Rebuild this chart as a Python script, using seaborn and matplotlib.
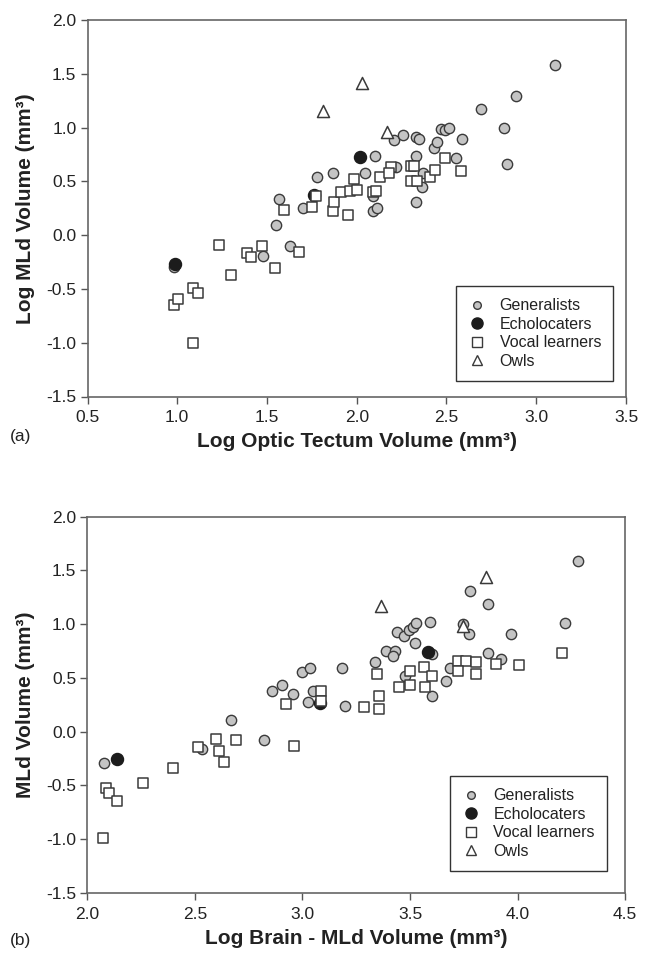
import matplotlib
matplotlib.use("Agg")
import matplotlib.pyplot as plt
from matplotlib.lines import Line2D
import seaborn as sns
import pandas as pd

# ---------------- Panel (a): Log Optic Tectum vs Log MLd ----------------
a_gen_x = [0.98, 1.48, 1.55, 1.565, 1.63, 1.70, 1.78, 1.865, 2.045, 2.10, 2.21, 2.255,
           2.22, 2.33, 2.345, 2.33, 2.37, 2.365, 2.33, 2.43, 2.445, 2.47, 2.49, 2.515,
           2.555, 2.585, 2.69, 2.82, 2.835, 2.885, 3.105, 2.09, 2.09, 2.115]
a_gen_y = [-0.30, -0.19, 0.09, 0.335, -0.10, 0.25, 0.54, 0.575, 0.575, 0.74, 0.885, 0.93,
           0.63, 0.91, 0.895, 0.74, 0.575, 0.45, 0.31, 0.81, 0.87, 0.99, 0.98, 1.00,
           0.715, 0.89, 1.175, 1.00, 0.66, 1.295, 1.58, 0.36, 0.225, 0.25]
a_echo_x = [0.99, 2.02, 1.76]
a_echo_y = [-0.27, 0.73, 0.37]
a_voc_x = [0.98, 1.005, 1.09, 1.115, 1.09, 1.235, 1.30, 1.39, 1.41, 1.47, 1.545, 1.595,
           1.68, 1.75, 1.775, 1.865, 1.875, 1.915, 1.95, 1.96, 1.985, 2.00, 2.09, 2.11,
           2.13, 2.19, 2.18, 2.30, 2.32, 2.30, 2.335, 2.41, 2.435, 2.49, 2.58]
a_voc_y = [-0.65, -0.595, -0.49, -0.54, -1.00, -0.09, -0.37, -0.165, -0.205, -0.10, -0.305, 0.235,
           -0.155, 0.265, 0.365, 0.22, 0.31, 0.40, 0.19, 0.41, 0.52, 0.42, 0.40, 0.415,
           0.545, 0.63, 0.575, 0.645, 0.64, 0.505, 0.505, 0.545, 0.605, 0.72, 0.60]
a_owl_x = [1.81, 2.03, 2.17]
a_owl_y = [1.155, 1.415, 0.96]

# ---------------- Panel (b): Log Brain - MLd vs MLd ----------------
b_gen_x = [2.078, 2.532, 2.668, 2.823, 2.86, 2.904, 2.955, 3.00, 3.033, 3.051, 3.028, 3.183,
           3.199, 3.335, 3.39, 3.43, 3.42, 3.439, 3.473, 3.496, 3.516, 3.527, 3.524, 3.594,
           3.60, 3.475, 3.60, 3.667, 3.684, 3.745, 3.776, 3.78, 3.862, 3.862, 3.923, 3.97,
           4.222, 4.279]
b_gen_y = [-0.29, -0.166, 0.106, -0.08, 0.38, 0.433, 0.349, 0.557, 0.59, 0.38, 0.272, 0.588,
           0.24, 0.644, 0.752, 0.752, 0.706, 0.924, 0.892, 0.945, 0.976, 1.013, 0.824, 1.02,
           0.72, 0.52, 0.33, 0.468, 0.588, 1.00, 0.91, 1.308, 1.19, 0.735, 0.678, 0.905,
           1.014, 1.59]
b_echo_x = [2.14, 3.585, 3.08]
b_echo_y = [-0.256, 0.743, 0.27]
b_voc_x = [2.087, 2.10, 2.14, 2.072, 2.26, 2.40, 2.513, 2.60, 2.61, 2.636, 2.69, 2.961,
           2.923, 3.086, 3.086, 3.287, 3.346, 3.354, 3.358, 3.451, 3.498, 3.501, 3.563, 3.571,
           3.602, 3.723, 3.761, 3.807, 3.723, 3.807, 3.90, 4.007, 4.207]
b_voc_y = [-0.523, -0.576, -0.644, -0.99, -0.477, -0.343, -0.142, -0.073, -0.18, -0.287, -0.08, -0.135,
           0.253, 0.38, 0.284, 0.231, 0.535, 0.33, 0.207, 0.417, 0.563, 0.433, 0.598, 0.417,
           0.52, 0.657, 0.657, 0.644, 0.563, 0.533, 0.626, 0.62, 0.734]
b_owl_x = [3.366, 3.853, 3.745]
b_owl_y = [1.169, 1.436, 0.982]

groups = ["Generalists", "Echolocaters", "Vocal learners", "Owls"]

sns.set_theme(style="white")
plt.rcParams["font.family"] = ["Liberation Sans", "DejaVu Sans"]

EDGE = "#3a3a3a"
styles = {
    "Generalists":    dict(marker="o", s=55, facecolor="#c4c4c4", edgecolor=EDGE, linewidth=1.0),
    "Echolocaters":   dict(marker="o", s=75, facecolor="#1c1c1c", edgecolor="#1c1c1c", linewidth=1.0),
    "Vocal learners": dict(marker="s", s=60, facecolor="white", edgecolor=EDGE, linewidth=1.1),
    "Owls":           dict(marker="^", s=75, facecolor="white", edgecolor=EDGE, linewidth=1.1),
}
legend_handles = [
    Line2D([], [], linestyle="none", marker="o", markersize=5.5, markerfacecolor="#c4c4c4",
           markeredgecolor=EDGE, markeredgewidth=1.0, label="Generalists"),
    Line2D([], [], linestyle="none", marker="o", markersize=8, markerfacecolor="#1c1c1c",
           markeredgecolor="#1c1c1c", label="Echolocaters"),
    Line2D([], [], linestyle="none", marker="s", markersize=6.5, markerfacecolor="white",
           markeredgecolor=EDGE, markeredgewidth=1.0, label="Vocal learners"),
    Line2D([], [], linestyle="none", marker="^", markersize=7.5, markerfacecolor="white",
           markeredgecolor=EDGE, markeredgewidth=1.0, label="Owls"),
]


def make_df(gx, gy, ex, ey, vx, vy, ox, oy):
    parts = []
    for name, xs, ys in [("Generalists", gx, gy), ("Vocal learners", vx, vy),
                         ("Echolocaters", ex, ey), ("Owls", ox, oy)]:
        parts.append(pd.DataFrame({"x": xs, "y": ys, "group": name}))
    return pd.concat(parts, ignore_index=True)


df_a = make_df(a_gen_x, a_gen_y, a_echo_x, a_echo_y, a_voc_x, a_voc_y, a_owl_x, a_owl_y)
df_b = make_df(b_gen_x, b_gen_y, b_echo_x, b_echo_y, b_voc_x, b_voc_y, b_owl_x, b_owl_y)

fig = plt.figure(figsize=(6.53, 9.56), dpi=100)
ax_a = fig.add_axes([87.5 / 653, 1 - 396.5 / 956, 538.5 / 653, 376.5 / 956])
ax_b = fig.add_axes([87.3 / 653, 1 - 892.7 / 956, 537.9 / 653, 376.0 / 956])

draw_order = ["Generalists", "Echolocaters", "Vocal learners", "Owls"]


def draw(ax, df, xlim, xticks, xlabel, ylabel, leg_anchor):
    for g in draw_order:
        sub = df[df["group"] == g]
        st = styles[g]
        sns.scatterplot(data=sub, x="x", y="y", ax=ax, marker=st["marker"], s=st["s"],
                        color=st["facecolor"], edgecolor=st["edgecolor"],
                        linewidth=st["linewidth"], legend=False, zorder=3)
    ax.set_xlim(*xlim)
    ax.set_ylim(-1.5, 2.0)
    ax.set_xticks(xticks)
    ax.set_xticklabels([f"{t:.1f}" for t in xticks])
    yt = [-1.5, -1.0, -0.5, 0.0, 0.5, 1.0, 1.5, 2.0]
    ax.set_yticks(yt)
    ax.set_yticklabels([f"{t:.1f}" for t in yt])
    ax.tick_params(axis="both", which="major", direction="out", length=5, width=1.0,
                   color="#555555", labelsize=12.5, labelcolor="#222222",
                   bottom=True, left=True)
    ax.tick_params(axis="x", pad=5)
    ax.tick_params(axis="y", pad=3)
    for sp in ax.spines.values():
        sp.set_color("#666666")
        sp.set_linewidth(1.2)
    ax.set_xlabel(xlabel, fontsize=15, fontweight="bold", color="#222222", labelpad=5)
    ax.set_ylabel(ylabel, fontsize=15, fontweight="bold", color="#222222", labelpad=8)
    leg = ax.legend(handles=legend_handles, loc="lower right", bbox_to_anchor=leg_anchor,
                    borderaxespad=0, fontsize=11.5, frameon=True, fancybox=False,
                    handlelength=1.2, handletextpad=0.8, labelspacing=0.22,
                    borderpad=0.75, edgecolor="#333333", framealpha=1)
    leg.get_frame().set_linewidth(1.0)
    for t in leg.get_texts():
        t.set_color("#222222")


draw(ax_a, df_a, (0.5, 3.5), [0.5, 1.0, 1.5, 2.0, 2.5, 3.0, 3.5],
     "Log Optic Tectum Volume (mm³)", "Log MLd Volume (mm³)", (0.976, 0.042))
draw(ax_b, df_b, (2.0, 4.5), [2.0, 2.5, 3.0, 3.5, 4.0, 4.5],
     "Log Brain - MLd Volume (mm³)", "MLd Volume (mm³)", (0.966, 0.058))

fig.text(10 / 653, 1 - 437 / 956, "(a)", fontsize=12.5, color="#222222", va="center", ha="left")
fig.text(10 / 653, 1 - 940 / 956, "(b)", fontsize=12.5, color="#222222", va="center", ha="left")

fig.savefig("out.png", dpi=100)
